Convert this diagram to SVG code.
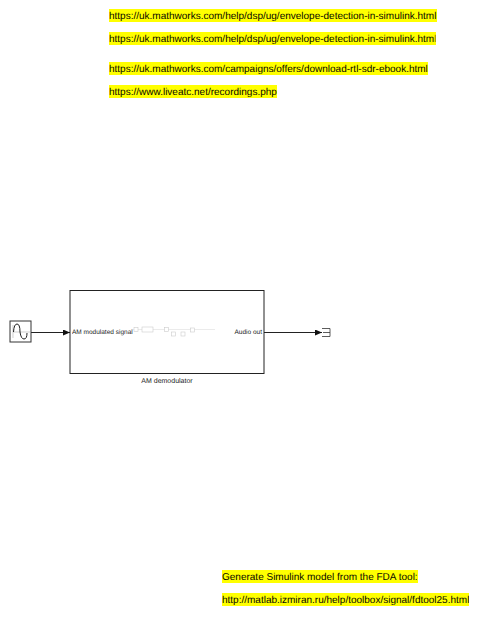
<svg xmlns="http://www.w3.org/2000/svg" width="479" height="624" viewBox="0 0 479 624">
<style>
text{text-rendering:geometricPrecision}
.u{font:10px "Liberation Sans",Arial,sans-serif;fill:#000;opacity:.97}
.h{fill:#ffff00}
.s{font:6.5px "Liberation Sans",Arial,sans-serif;fill:#111;opacity:.95}
.w{stroke:#222;stroke-width:1;fill:none}
.m{stroke:#ccc;stroke-width:.6;fill:#fff}
</style>
<defs>
<clipPath id="c1"><rect x="109" y="30" width="326.500" height="16"/></clipPath>
<clipPath id="c2"><rect x="222" y="591" width="247" height="16"/></clipPath>
<marker id="a" markerWidth="7" markerHeight="6" refX="7" refY="3" orient="auto" markerUnits="userSpaceOnUse"><path d="M0 0L7 3L0 6Z" fill="#111"/></marker>
</defs>
<rect width="479" height="624" fill="#fff"/>
<g id="notes">
<rect class="h" x="109" y="9" width="328" height="13"/>
<text class="u" x="109" y="19">https://uk.mathworks.com/help/dsp/ug/envelope-detection-in-simulink.html</text>
<rect class="h" x="109" y="32" width="327" height="13"/>
<text class="u" x="109" y="42" clip-path="url(#c1)">https://uk.mathworks.com/help/dsp/ug/envelope-detection-in-simulink.html</text>
<rect class="h" x="109" y="62" width="319" height="13"/>
<text class="u" x="109" y="72">https://uk.mathworks.com/campaigns/offers/download-rtl-sdr-ebook.html</text>
<rect class="h" x="109" y="85" width="168" height="13"/>
<text class="u" x="109" y="95">https://www.liveatc.net/recordings.php</text>
<rect class="h" x="222" y="570" width="196" height="13"/>
<text class="u" x="222" y="580">Generate Simulink model from the FDA tool:</text>
<rect class="h" x="222" y="593" width="247" height="13"/>
<text class="u" x="222" y="603" clip-path="url(#c2)">http://matlab.izmiran.ru/help/toolbox/signal/fdtool25.html</text>
</g>
<g id="connectors">
<path class="w" d="M31 332.500H70" marker-end="url(#a)"/>
<path class="w" d="M264 332.500H322" marker-end="url(#a)"/>
</g>
<g id="source">
<rect x="10" y="321" width="21" height="21" fill="#fff" stroke="#333"/>
<path d="M13 325V338M13 332H30" stroke="#bbb" stroke-width=".7" fill="none"/>
<path d="M13.500 332Q14 324 17 324T20 332Q21 339 24 339T27 333" fill="none" stroke="#222" stroke-width="1"/>
</g>
<g id="am-demodulator">
<rect x="70" y="290.500" width="194" height="83" fill="#fff" stroke="#222" stroke-width="1"/>
<path d="M133 329.500H215" stroke="#ddd" stroke-width=".6"/>
<rect class="m" x="134" y="327.500" width="4" height="4"/>
<rect class="m" x="142" y="327" width="11" height="5"/>
<rect class="m" x="164.500" y="327.500" width="4" height="4"/>
<rect class="m" x="171.500" y="332" width="4" height="4"/>
<rect class="m" x="181" y="332" width="4" height="4"/>
<rect class="m" x="190.500" y="328" width="4" height="4"/>
<text class="s" x="72" y="333.500">AM modulated signal</text>
<text class="s" x="234.500" y="333.500">Audio out</text>
<text class="s" x="167" y="383" text-anchor="middle" style="font-size:7px">AM demodulator</text>
</g>
<g id="scope">
<path d="M322 328.500H330V336.500H322M323 332.500H330" fill="none" stroke="#333" stroke-width=".8"/>
</g>
</svg>
